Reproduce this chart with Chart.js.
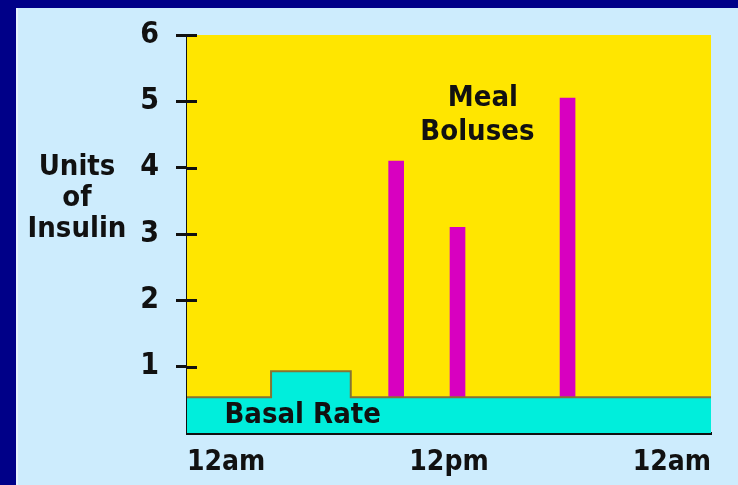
<!DOCTYPE html>
<html>
<head>
<meta charset="utf-8">
<script src="https://cdn.jsdelivr.net/npm/chart.js@4.4.1/dist/chart.umd.min.js"></script>
<style>
    body { margin: 0; background: #000088; }
    #panel { position: absolute; left: 16px; top: 8px; width: 720px; height: 477px; background: #cdecfd; border-left: 2px solid #e6f4ff; }
    #insulinChart { position: absolute; left: 0; top: 0; }
</style>
</head>
<body>
<div id="panel"></div>
<canvas id="insulinChart" width="738" height="485"></canvas>
<script>
// chart values
const hourTicks = [0, 12, 24];
const hourLabels = ['12am', '12pm', '12am'];
const unitTicks = [1, 2, 3, 4, 5, 6];
const basalHours = [0, 3.85, 7.5, 24];
const basalUnits = [0.54, 0.93, 0.54, 0.54];
const bolusHours = [9.58, 12.39, 17.43];
const bolusUnits = [4.1, 3.1, 5.05];
const axisTitle = ['Units', 'of', 'Insulin'];

document.addEventListener("DOMContentLoaded", function () {
    const canvas = document.getElementById("insulinChart");
    const fontFamily = '"DejaVu Sans Condensed", "DejaVu Sans", sans-serif';
    const labelFont = 'bold 29px ' + fontFamily;

    // yellow plot background
    const plotBackground = {
        id: 'plotBackground',
        beforeDatasetsDraw(chart) {
            const { ctx, chartArea } = chart;
            ctx.save();
            ctx.fillStyle = '#ffe600';
            ctx.fillRect(chartArea.left, chartArea.top, chartArea.right - chartArea.left, chartArea.bottom - chartArea.top);
            ctx.restore();
        }
    };

    // texts inside the plot and the y title, plus the inner half of the tick marks
    const chartTexts = {
        id: 'chartTexts',
        afterDraw(chart) {
            const { ctx, chartArea } = chart;
            const x = chart.scales.x;
            const y = chart.scales.y;
            ctx.save();
            ctx.strokeStyle = '#111';
            ctx.lineWidth = 3;
            unitTicks.forEach(v => {
                const py = Math.round(y.getPixelForValue(v)) + 0.5;
                ctx.beginPath();
                ctx.moveTo(chartArea.left, py);
                ctx.lineTo(chartArea.left + 10, py);
                ctx.stroke();
            });

            ctx.font = labelFont;
            ctx.fillStyle = '#111';
            ctx.textAlign = 'center';
            ctx.textBaseline = 'middle';
            ctx.fillText('Meal', x.getPixelForValue(13.55), y.getPixelForValue(5.04));
            ctx.fillText('Boluses', x.getPixelForValue(13.3), y.getPixelForValue(4.53));
            ctx.fillText('Basal Rate', x.getPixelForValue(5.3), y.getPixelForValue(0.27));

            const titleTop = y.getPixelForValue(4);
            axisTitle.forEach((line, i) => {
                ctx.fillText(line, chartArea.left - 110, titleTop + i * 31);
            });
            ctx.restore();
        }
    };

    new Chart(canvas, {
        type: 'line',
        data: {
            datasets: [{
                type: 'line',
                label: 'Basal Rate',
                data: basalHours.map((h, i) => ({ x: h, y: basalUnits[i] })),
                stepped: true,
                fill: 'origin',
                backgroundColor: '#00eedc',
                borderColor: '#857434',
                borderWidth: 2,
                pointRadius: 0,
                order: 0,
            }, {
                type: 'bar',
                label: 'Meal Boluses',
                data: bolusHours.map((h, i) => ({ x: h, y: bolusUnits[i] })),
                backgroundColor: '#d800c0',
                barThickness: 15,
                order: 1,
            }]
        },
        options: {
            responsive: false,
            animation: false,
            layout: { padding: { left: 0, top: 33, right: 27, bottom: 0 } },
            plugins: {
                legend: { display: false },
                tooltip: { enabled: false },
            },
            scales: {
                x: {
                    type: 'linear',
                    min: 0,
                    max: 24,
                    offset: false,
                    afterFit: scale => { scale.height = 52; },
                    afterBuildTicks: scale => { scale.ticks = hourTicks.map(v => ({ value: v })); },
                    grid: { display: false, drawTicks: false },
                    border: { display: true, color: '#111', width: 3 },
                    ticks: {
                        align: 'inner',
                        padding: 13,
                        color: '#111',
                        font: { family: fontFamily, size: 28, weight: 'bold' },
                        callback: v => hourLabels[hourTicks.indexOf(v)],
                    },
                },
                y: {
                    min: 0,
                    max: 6,
                    afterFit: scale => { scale.width = 187; },
                    grid: {
                        drawOnChartArea: false,
                        tickLength: 11,
                        lineWidth: 3,
                        color: ctx => (ctx.tick && ctx.tick.value === 0) ? 'rgba(0,0,0,0)' : '#111',
                    },
                    border: { display: true, color: '#111', width: 3 },
                    ticks: {
                        stepSize: 1,
                        padding: 17,
                        color: '#111',
                        font: { family: fontFamily, size: 30, weight: 'bold' },
                        callback: v => v === 0 ? '' : v,
                    },
                },
            },
        },
        plugins: [plotBackground, chartTexts],
    });
});
</script>
</body>
</html>
